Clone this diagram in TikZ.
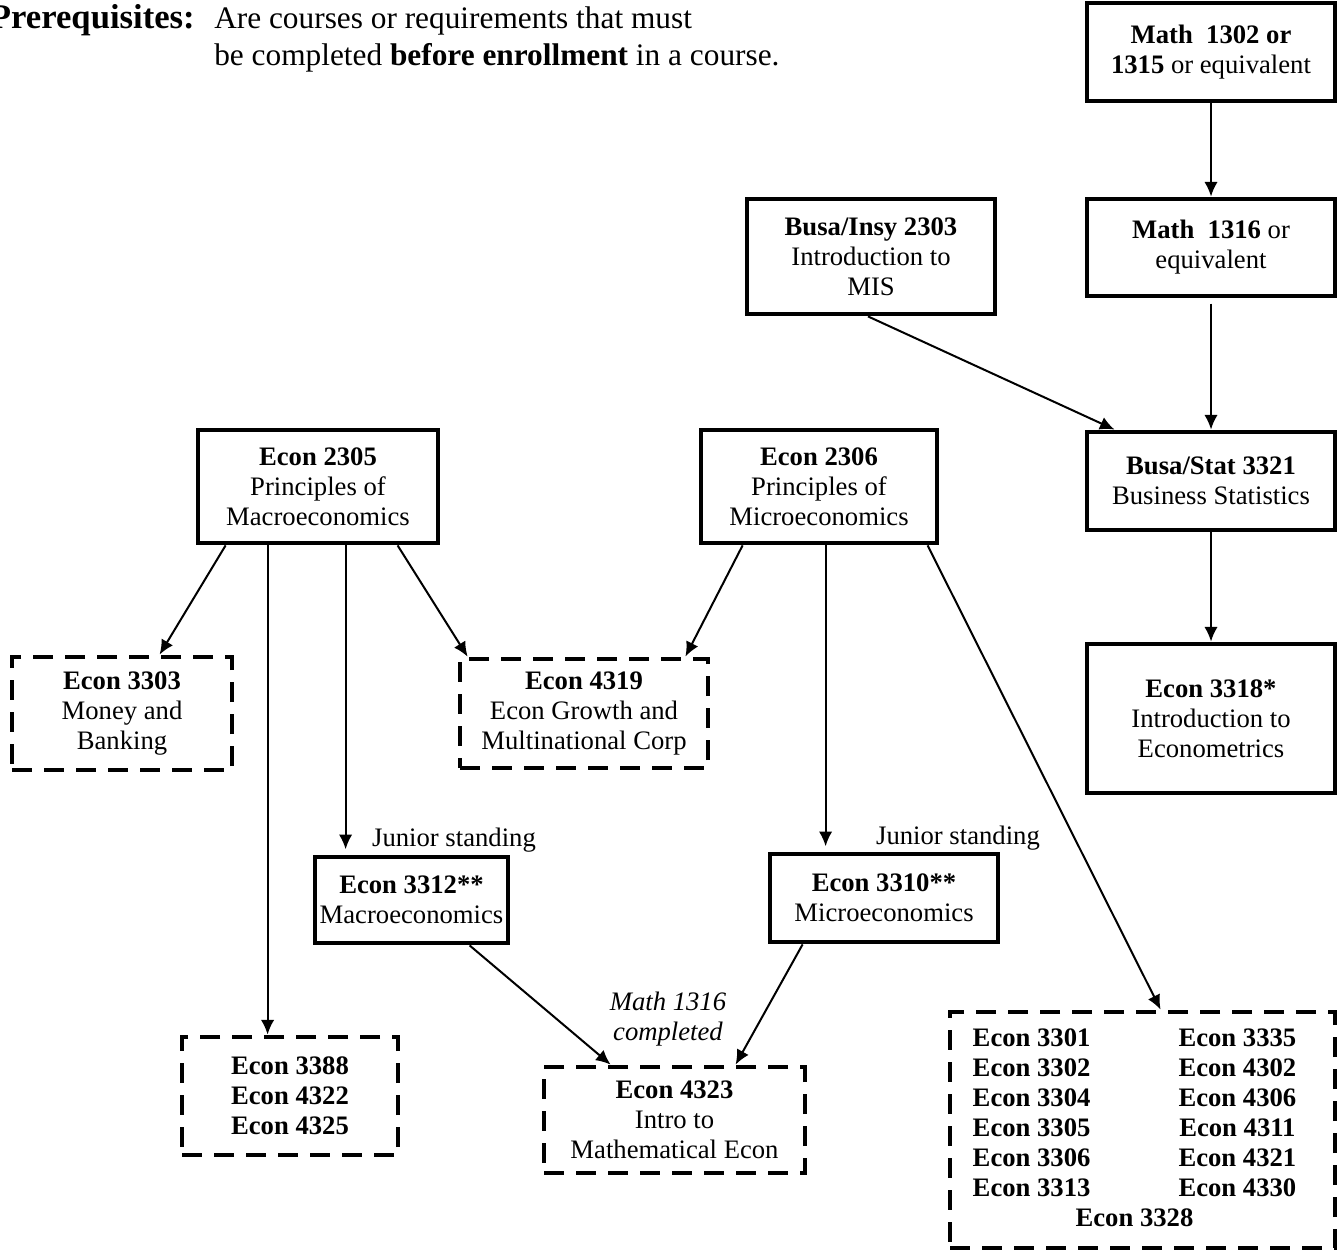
\documentclass[tikz,border=0pt]{standalone}
\usepackage{fontspec}
\setmainfont{Liberation Serif}
\usetikzlibrary{arrows.meta}

\begin{document}
\begin{tikzpicture}[x=0.75pt,y=-0.75pt,>={Latex[length=11pt,width=10pt]},
  every node/.style={font=\fontsize{20}{22.5}\selectfont},
  course/.style={draw,line width=3.6pt,align=center,inner sep=0pt},
  elective/.style={course,dash pattern=on 15pt off 9pt},
  prereq/.style={->,line width=1.5pt},
  heading/.style={inner sep=0pt,font=\fontsize{23.5}{27}\selectfont}]
\useasboundingbox (0,0) rectangle (1341,1257);
\node[heading,anchor=base east,font=\fontsize{26}{27}\selectfont\bfseries] (title) at (195,28) {Prerequisites:};
\node[heading,anchor=base west] (def1) at (214,28) {Are courses or requirements that must};
\node[heading,anchor=base west] (def2) at (214,65) {be completed \textbf{before enrollment} in a course.};

\node[course,minimum width=186pt,minimum height=73.5pt] (math1302) at (1211,52) {\textbf{Math\ \ 1302 or}\\\textbf{1315} or equivalent};
\node[course,minimum width=186pt,minimum height=72.75pt] (math1316) at (1211,247.5) {\textbf{Math\ \ 1316} or\\equivalent};
\node[course,minimum width=186pt,minimum height=86.25pt] (busainsy) at (871,256.5) {\textbf{Busa/Insy 2303}\\Introduction to\\MIS};
\node[course,minimum width=186pt,minimum height=73.5pt] (busastat) at (1211,481) {\textbf{Busa/Stat 3321}\\Business Statistics};
\node[course,minimum width=186pt,minimum height=111.75pt] (econ3318) at (1211,718.5) {\textbf{Econ 3318*}\\Introduction to\\Econometrics};
\node[course,minimum width=180pt,minimum height=84.75pt] (econ2305) at (318,486.5) {\textbf{Econ 2305}\\Principles of\\Macroeconomics};
\node[course,minimum width=177pt,minimum height=84.75pt] (econ2306) at (819,486.5) {\textbf{Econ 2306}\\Principles of\\Microeconomics};
\node[elective,minimum width=165pt,minimum height=84.75pt] (econ3303) at (122,713.5) {\textbf{Econ 3303}\\Money and\\Banking};
\node[elective,minimum width=186pt,minimum height=81.75pt] (econ4319) at (584,713.5) {\textbf{Econ 4319}\\Econ Growth and\\Multinational Corp};
\node[course,minimum width=144.75pt,minimum height=64.5pt] (econ3312) at (411.5,900) {\textbf{Econ 3312**}\\Macroeconomics};
\node[course,minimum width=171pt,minimum height=66pt] (econ3310) at (884,898) {\textbf{Econ 3310**}\\Microeconomics};
\node[elective,minimum width=162pt,minimum height=88.5pt] (econ3388) at (290,1096) {\textbf{Econ 3388}\\\textbf{Econ 4322}\\\textbf{Econ 4325}};
\node[elective,minimum width=195.75pt,minimum height=79.5pt] (econ4323) at (674.5,1120) {\textbf{Econ 4323}\\Intro to\\Mathematical Econ};
\node[elective,minimum width=288.75pt,minimum height=177pt] (econlist) at (1142.5,1130) {\bfseries\hspace*{-12pt}%
  \begin{tabular}{@{}c@{\hspace{66pt}}c@{}}
  Econ 3301 & Econ 3335\\
  Econ 3302 & Econ 4302\\
  Econ 3304 & Econ 4306\\
  Econ 3305 & Econ 4311\\
  Econ 3306 & Econ 4321\\
  Econ 3313 & Econ 4330\\
  \multicolumn{2}{c}{Econ 3328}
  \end{tabular}};
\node (junior1) at (454,840) {Junior standing};
\node (junior2) at (958,838) {Junior standing};
\node[align=center,font=\fontsize{20}{22.5}\selectfont\itshape] (mathnote) at (668,1019) {Math 1316\\completed};

\draw[prereq] (math1302) -- (math1316);
\draw[prereq,shorten <=4pt] (math1316) -- (busastat);
\draw[prereq] ([xshift=-2.25pt]busainsy.south) -- ([xshift=22.5pt]busastat.north west);
\draw[prereq] (busastat) -- (econ3318);
\draw[prereq] ([xshift=22.5pt]econ2305.south west) -- ([xshift=112.5pt]econ3303.north west);
\draw[prereq] ([xshift=54pt]econ2305.south west) -- ([xshift=66pt]econ3388.north west);
\draw[prereq] ([xshift=112.5pt]econ2305.south west) -- ([xshift=24.75pt,yshift=4pt]econ3312.north west);
\draw[prereq] ([xshift=151.5pt]econ2305.south west) -- ([xshift=7.5pt]econ4319.north west);
\draw[prereq] ([xshift=33pt]econ2306.south west) -- ([xshift=-18.75pt]econ4319.north east);
\draw[prereq] ([xshift=95.25pt]econ2306.south west) -- ([xshift=43.5pt,yshift=4pt]econ3310.north west);
\draw[prereq] ([xshift=171.75pt]econ2306.south west) -- ([xshift=159.75pt]econlist.north west);
\draw[prereq] ([xshift=117.75pt]econ3312.south west) -- ([xshift=51.75pt]econ4323.north west);
\draw[prereq] ([xshift=26.25pt]econ3310.south west) -- ([xshift=145.5pt]econ4323.north west);
\end{tikzpicture}
\end{document}
